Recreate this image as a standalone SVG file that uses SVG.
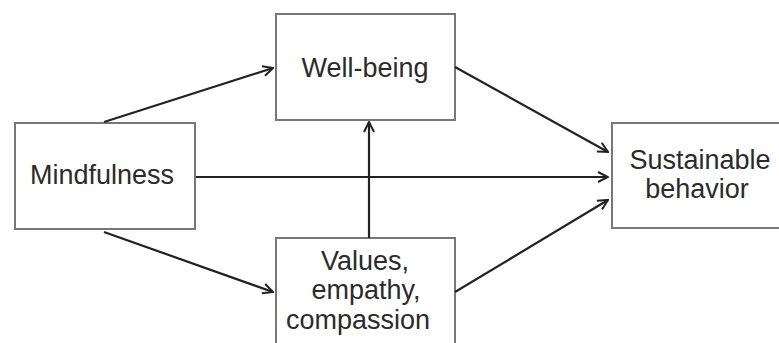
<svg xmlns="http://www.w3.org/2000/svg" width="779" height="343" viewBox="0 0 779 343">
  <defs>
    <marker id="arrow" viewBox="0 0 12 12" refX="11" refY="6" markerWidth="12" markerHeight="12" markerUnits="userSpaceOnUse" orient="auto">
      <path d="M1,1 L11,6 L1,11" fill="none" stroke="#222" stroke-width="2"/>
    </marker>
  </defs>
  <style>
    .box { fill: #fff; stroke: #777; stroke-width: 2; }
    .lbl { font-family: "Liberation Sans", Arial, sans-serif; font-size: 27px; fill: #2b2b2b; text-anchor: middle; }
    .edge { fill: none; stroke: #222; stroke-width: 2.2; marker-end: url(#arrow); }
  </style>
  <rect width="779" height="343" fill="#fff"/>

  <g id="mindfulness">
    <rect class="box" x="15" y="123" width="180" height="106"/>
    <text class="lbl" x="102" y="184">Mindfulness</text>
  </g>

  <g id="well-being">
    <rect class="box" x="276" y="14" width="179" height="106"/>
    <text class="lbl" x="365" y="77">Well-being</text>
  </g>

  <g id="values">
    <rect class="box" x="276" y="238" width="179" height="115"/>
    <text class="lbl" x="365" y="270">Values,</text>
    <text class="lbl" x="366" y="299">empathy,</text>
    <text class="lbl" x="358" y="329">compassion</text>
  </g>

  <g id="sustainable">
    <rect class="box" x="612" y="123" width="180" height="105"/>
    <text class="lbl" x="700" y="169">Sustainable</text>
    <text class="lbl" x="697" y="198">behavior</text>
  </g>

  <g id="connectors">
    <line class="edge" x1="104" y1="122" x2="273" y2="68"/>
    <line class="edge" x1="455" y1="67" x2="608" y2="152"/>
    <line class="edge" x1="196" y1="177" x2="608" y2="177"/>
    <line class="edge" x1="104" y1="232" x2="273" y2="292"/>
    <line class="edge" x1="455" y1="292" x2="608" y2="200"/>
    <line class="edge" x1="369" y1="238" x2="369" y2="122"/>
  </g>
</svg>
